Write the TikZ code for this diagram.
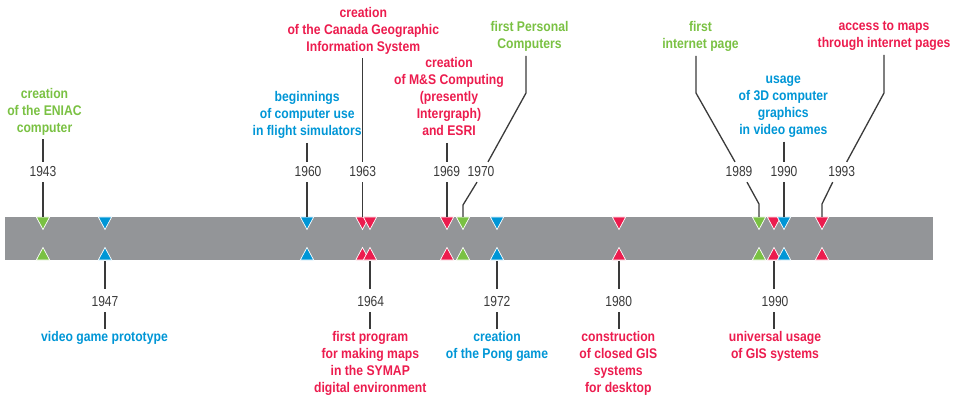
\documentclass[tikz,border=0pt]{standalone}
\usepackage{fontspec}
\setmainfont{Liberation Sans}
\newfontfamily\labfont[FakeStretch=0.87]{Liberation Sans Bold}
\newfontfamily\yrfont[FakeStretch=0.83]{Liberation Sans}
\definecolor{cgreen}{HTML}{7AC143}
\definecolor{cblue}{HTML}{0096D6}
\definecolor{cred}{HTML}{EC1C4E}
\definecolor{bandgray}{HTML}{939598}
\definecolor{ink}{HTML}{3A3A3A}
\tikzset{
  lab/.style={font=\labfont\fontsize{14}{17}\selectfont, align=center,
    inner sep=0pt, outer sep=4pt, anchor=north,
    execute at begin node={\vphantom{A}}, execute at end node={\vphantom{g}}},
  yr/.style={font=\yrfont\fontsize{14.5}{17}\selectfont, text=ink, inner sep=0pt, outer sep=5pt},
  conn/.style={draw=ink, line width=1.3pt},
  tri/.style={fill=#1, draw=white, line width=0.7pt}
}
\newcommand\evtri[2]{%
  \filldraw[tri=#2] (#1-6.7,217) -- (#1+6.7,217) -- (#1,229.5) -- cycle;
  \filldraw[tri=#2] (#1-6.7,260) -- (#1+6.7,260) -- (#1,247.5) -- cycle;}
\begin{document}
\begin{tikzpicture}[x=1pt,y=-1pt]
\useasboundingbox (0,0) rectangle (953,398);
% band
\fill[bandgray] (5,217) rectangle (933,260);
% triangles, left to right
\evtri{43}{cgreen}
\evtri{105}{cblue}
\evtri{307}{cblue}
\evtri{362.5}{cred}
\evtri{370}{cred}
\evtri{447}{cred}
\evtri{463}{cgreen}
\evtri{497}{cblue}
\evtri{619}{cred}
\evtri{759}{cgreen}
\evtri{774}{cred}
\evtri{784}{cblue}
\evtri{822}{cred}
% anchor coordinates on the band
\coordinate (t1943) at (43,217);
\coordinate (t1960) at (307,217);
\coordinate (t1963) at (362.5,217);
\coordinate (t1969) at (447,217);
\coordinate (t1970) at (463,217);
\coordinate (t1989) at (759,217);
\coordinate (t1990) at (784,217);
\coordinate (t1993) at (822,217);
\coordinate (b1947) at (105,261);
\coordinate (b1964) at (370,261);
\coordinate (b1972) at (497,261);
\coordinate (b1980) at (619,261);
\coordinate (b1990) at (774,261);
% knees
\coordinate (k1970a) at (526,93);
\coordinate (k1970b) at (463,205);
\coordinate (k1989a) at (696,93);
\coordinate (k1989b) at (759,204);
\coordinate (k1993a) at (884,93);
\coordinate (k1993b) at (822,204);

% ---- top labels ----
\node[lab, text=cgreen] (l1943) at (44.5,84) {creation\\of the ENIAC\\computer};
\node[yr] (y1943) at (43,172) {1943};
\draw[conn] (l1943.south -| t1943) -- (y1943.north -| t1943);
\draw[conn] (y1943.south -| t1943) -- (t1943);

\node[lab, text=cblue] (l1960) at (307.2,87.7) {beginnings\\of computer use\\in flight simulators};
\node[yr] (y1960) at (308,172) {1960};
\draw[conn] (l1960.south -| t1960) -- (y1960.north -| t1960);
\draw[conn] (y1960.south -| t1960) -- (t1960);

\node[lab, text=cred] (l1963) at (363.3,3.3) {creation\\of the Canada Geographic\\Information System};
\node[yr] (y1963) at (362.7,172) {1963};
\draw[conn] (l1963.south -| t1963) -- (y1963.north -| t1963);
\draw[conn] (y1963.south -| t1963) -- (t1963);

\node[lab, text=cred] (l1969) at (449,53.7) {creation\\of M\&S Computing\\(presently\\Intergraph)\\and ESRI};
\node[yr] (y1969) at (446.7,172) {1969};
\draw[conn] (l1969.south -| t1969) -- (y1969.north -| t1969);
\draw[conn] (y1969.south -| t1969) -- (t1969);

\node[lab, text=cgreen] (l1970) at (529.5,17.7) {first Personal\\Computers};
\node[yr] (y1970) at (481,172) {1970};
\draw[conn] (l1970.south -| k1970a) -- (k1970a) -- ([xshift=7pt]y1970.north);
\draw[conn] ([xshift=-4pt]y1970.south) -- (k1970b) -- (t1970);

\node[lab, text=cgreen] (l1989) at (700.5,17.7) {first\\internet page};
\node[yr] (y1989) at (739,172) {1989};
\draw[conn] (l1989.south -| k1989a) -- (k1989a) -- ([xshift=-4pt]y1989.north);
\draw[conn] ([xshift=8pt]y1989.south) -- (k1989b) -- (t1989);

\node[lab, text=cblue] (l1990) at (783.3,72) {usage\\of 3D computer\\graphics\\in video games};
\node[yr] (y1990) at (784,172) {1990};
\draw[conn] (l1990.south -| t1990) -- (y1990.north -| t1990);
\draw[conn] (y1990.south -| t1990) -- (t1990);

\node[lab, text=cred] (l1993) at (884,17.7) {access to maps\\through internet pages};
\node[yr] (y1993) at (841.7,172) {1993};
\draw[conn] (l1993.south -| k1993a) -- (k1993a) -- ([xshift=5pt]y1993.north);
\draw[conn] ([xshift=-9pt]y1993.south) -- (k1993b) -- (t1993);

% ---- bottom labels ----
\node[yr] (y1947) at (105,302) {1947};
\node[lab, text=cblue] (l1947) at (104.5,327.7) {video game prototype};
\draw[conn] (b1947) -- ([yshift=3pt]y1947.north -| b1947);
\draw[conn] (y1947.south -| b1947) -- ([yshift=-1.5pt]l1947.north -| b1947);

\node[yr] (y1964) at (370.7,302) {1964};
\node[lab, text=cred] (l1964) at (370.3,327.7) {first program\\for making maps\\in the SYMAP\\digital environment};
\draw[conn] (b1964) -- ([yshift=3pt]y1964.north -| b1964);
\draw[conn] (y1964.south -| b1964) -- ([yshift=-1.5pt]l1964.north -| b1964);

\node[yr] (y1972) at (497,302) {1972};
\node[lab, text=cblue] (l1972) at (497,327.7) {creation\\of the Pong game};
\draw[conn] (b1972) -- ([yshift=3pt]y1972.north -| b1972);
\draw[conn] (y1972.south -| b1972) -- ([yshift=-1.5pt]l1972.north -| b1972);

\node[yr] (y1980) at (618.7,302) {1980};
\node[lab, text=cred] (l1980) at (618.3,327.7) {construction\\of closed GIS\\systems\\for desktop};
\draw[conn] (b1980) -- ([yshift=3pt]y1980.north -| b1980);
\draw[conn] (y1980.south -| b1980) -- ([yshift=-1.5pt]l1980.north -| b1980);

\node[yr] (y1990b) at (775,302) {1990};
\node[lab, text=cred] (l1990b) at (775,327.7) {universal usage\\of GIS systems};
\draw[conn] (b1990) -- ([yshift=3pt]y1990b.north -| b1990);
\draw[conn] (y1990b.south -| b1990) -- ([yshift=-1.5pt]l1990b.north -| b1990);
\end{tikzpicture}
\end{document}
